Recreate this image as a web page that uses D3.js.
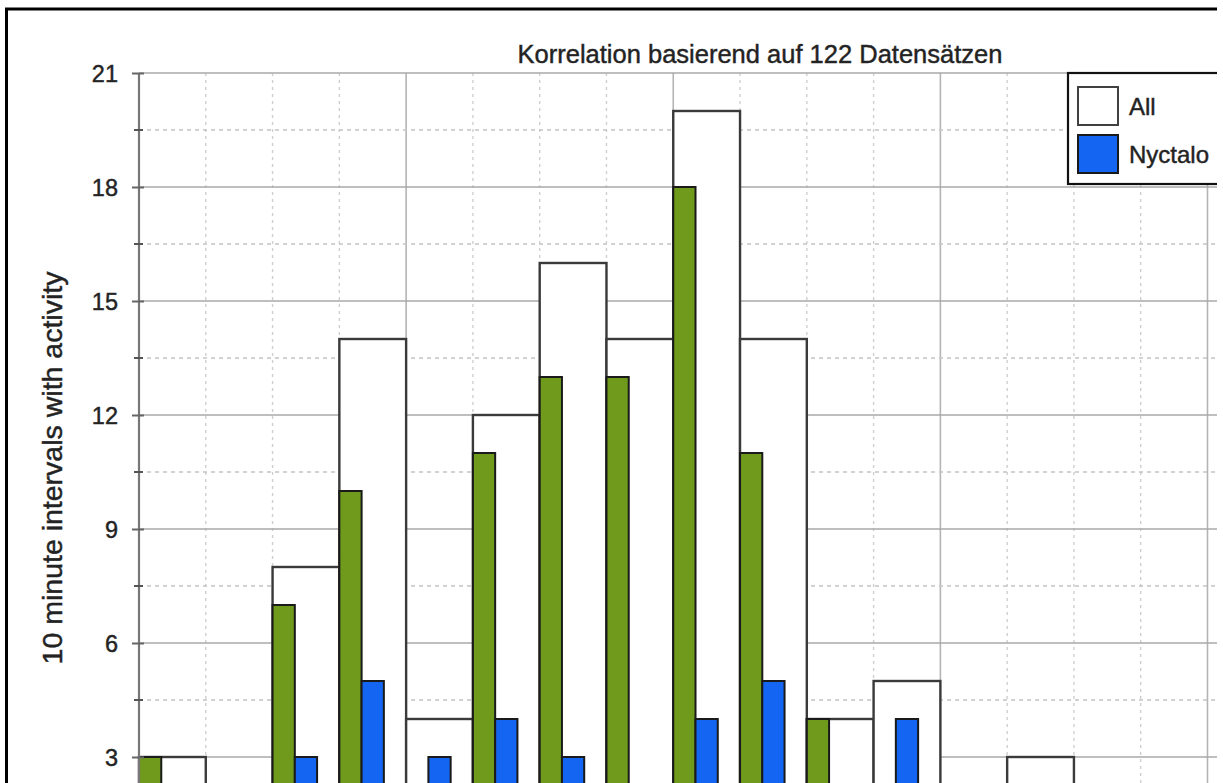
<!DOCTYPE html>
<html>
<head>
<meta charset="utf-8">
<script src="https://cdn.jsdelivr.net/npm/d3@7"></script>
<style>
  html, body { margin: 0; padding: 0; background: #fff; }
  svg { display: block; }
  text { font-family: "Liberation Sans", Arial, Helvetica, sans-serif; fill: #222; stroke: #2a2a2a; stroke-width: 0.45px; }
</style>
</head>
<body>
<script>
// ---- data (values below 3 are cut off in the reference and estimated) ----
const bins = ["0","1","2","3","4","5","6","7","8","9","10","11","12","13","14","15"];
const allValues      = [3, 1, 8, 14, 4, 12, 16, 14, 20, 14, 4, 5, 1, 3, 1, 0];
const greenValues    = [3, 1, 7, 10, 1, 11, 13, 13, 18, 11, 4, 1, 0, 1, 0, 0];
const nyctaloValues  = [0, 0, 3, 5, 3, 4, 3, 1, 4, 5, 0, 4, 1, 1, 0, 0];
const yTicks = [3, 6, 9, 12, 15, 18, 21];
const titleText = "Korrelation basierend auf 122 Datensätzen";
const yLabel = "10 minute intervals with activity";
const legendLabels = ["All", "Nyctalo"];

const W = 1223, H = 783;
const svg = d3.select("body").append("svg").attr("width", W).attr("height", H);

const x = d3.scaleLinear().domain([0, bins.length]).range([139, 1207.5]);
const y = d3.scaleLinear().domain([0, 21]).range([871, 73]);
const bw = x(1) - x(0);
const rightEdge = 1217;

const COLORS = { green: "#6f9a1c", blue: "#1466f2", stroke: "#1a1a1a", allStroke: "#3a3a3a" };

svg.append("defs").append("clipPath").attr("id", "clip")
  .append("rect").attr("x", 0).attr("y", 0).attr("width", rightEdge).attr("height", H);

const g = svg.append("g").attr("clip-path", "url(#clip)");

// vertical grid
const vLines = d3.range(0, bins.length + 2);
g.selectAll("line.vgrid").data(vLines).join("line")
  .attr("x1", d => x(d)).attr("x2", d => x(d))
  .attr("y1", y(21)).attr("y2", H)
  .attr("stroke", d => d % 4 === 0 ? "#b4b4b4" : "#cfcfcf")
  .attr("stroke-width", d => d % 4 === 0 ? 1.6 : 1.4)
  .attr("stroke-dasharray", d => d % 4 === 0 ? null : "3,4");

// horizontal grid
const minor = yTicks.map(t => t - 1.5).filter(v => v > 0);
g.selectAll("line.hminor").data(minor).join("line")
  .attr("x1", x(0)).attr("x2", rightEdge)
  .attr("y1", d => y(d)).attr("y2", d => y(d))
  .attr("stroke", "#c4c4c4").attr("stroke-width", 1.5).attr("stroke-dasharray", "4,4");
g.selectAll("line.hmajor").data(yTicks).join("line")
  .attr("x1", x(0)).attr("x2", rightEdge)
  .attr("y1", d => y(d)).attr("y2", d => y(d))
  .attr("stroke", "#a8a8a8").attr("stroke-width", 1.6);

// "All" bars
g.selectAll("rect.all").data(allValues).join("rect")
  .attr("x", (d, i) => x(i)).attr("width", bw)
  .attr("y", d => y(d)).attr("height", d => Math.max(0, y(0) - y(d)))
  .attr("fill", "#fff").attr("stroke", COLORS.allStroke).attr("stroke-width", 2.4)
  .style("display", d => d > 0 ? null : "none");

// green bars
g.selectAll("rect.green").data(greenValues).join("rect")
  .attr("x", (d, i) => x(i)).attr("width", bw / 3)
  .attr("y", d => y(d)).attr("height", d => Math.max(0, y(0) - y(d)))
  .attr("fill", COLORS.green).attr("stroke", COLORS.stroke).attr("stroke-width", 2)
  .style("display", d => d > 0 ? null : "none");

// Nyctalo bars
g.selectAll("rect.blue").data(nyctaloValues).join("rect")
  .attr("x", (d, i) => x(i) + bw / 3).attr("width", bw / 3)
  .attr("y", d => y(d)).attr("height", d => Math.max(0, y(0) - y(d)))
  .attr("fill", COLORS.blue).attr("stroke", COLORS.stroke).attr("stroke-width", 2)
  .style("display", d => d > 0 ? null : "none");

// y axis
const yAxis = d3.axisLeft(y).tickValues(yTicks).tickSize(7).tickPadding(14).tickFormat(d3.format("d"));
const ax = svg.append("g").attr("transform", `translate(${x(0)},0)`).call(yAxis);
ax.select(".domain").attr("stroke", "#777").attr("stroke-width", 2.2).attr("d", `M0,${y(21)}V${H}`);
ax.selectAll(".tick line").attr("stroke", "#666").attr("stroke-width", 2).attr("x2", 5).attr("x1", -7);
ax.selectAll(".tick text").attr("font-size", 23.5).attr("fill", "#2a2a2a")
  .attr("font-family", "'Liberation Sans', Arial, sans-serif").attr("dy", "0.36em");
svg.selectAll("line.mtick").data(minor).join("line")
  .attr("x1", x(0) - 5).attr("x2", x(0) + 4)
  .attr("y1", d => y(d)).attr("y2", d => y(d))
  .attr("stroke", "#555").attr("stroke-width", 2);

// y label
svg.append("text")
  .attr("transform", `translate(62,468) rotate(-90)`)
  .attr("text-anchor", "middle")
  .attr("font-size", 28.5).attr("fill", "#2a2a2a")
  .text(yLabel);

// title
svg.append("text").attr("x", 760).attr("y", 63).attr("text-anchor", "middle")
  .attr("font-size", 25.5).attr("fill", "#222").text(titleText);

// legend
const lg = svg.append("g").attr("clip-path", "url(#clip)");
lg.append("rect").attr("x", 1068).attr("y", 73).attr("width", 200).attr("height", 111)
  .attr("fill", "#fff").attr("stroke", "#111").attr("stroke-width", 2.2);
const legendFill = ["#fff", COLORS.blue];
const legendStroke = ["#404040", COLORS.stroke];
legendLabels.forEach((lab, i) => {
  const yy = 87 + i * 48;
  lg.append("rect").attr("x", 1078).attr("y", yy).attr("width", 40).attr("height", 38)
    .attr("fill", legendFill[i]).attr("stroke", legendStroke[i]).attr("stroke-width", 2);
  lg.append("text").attr("x", 1129).attr("y", yy + 28).attr("font-size", 24)
    .attr("fill", "#111").text(lab);
});

// outer frame
svg.append("path").attr("d", `M6.5,${H}V9H${rightEdge}`)
  .attr("fill", "none").attr("stroke", "#000").attr("stroke-width", 3);
</script>
</body>
</html>
